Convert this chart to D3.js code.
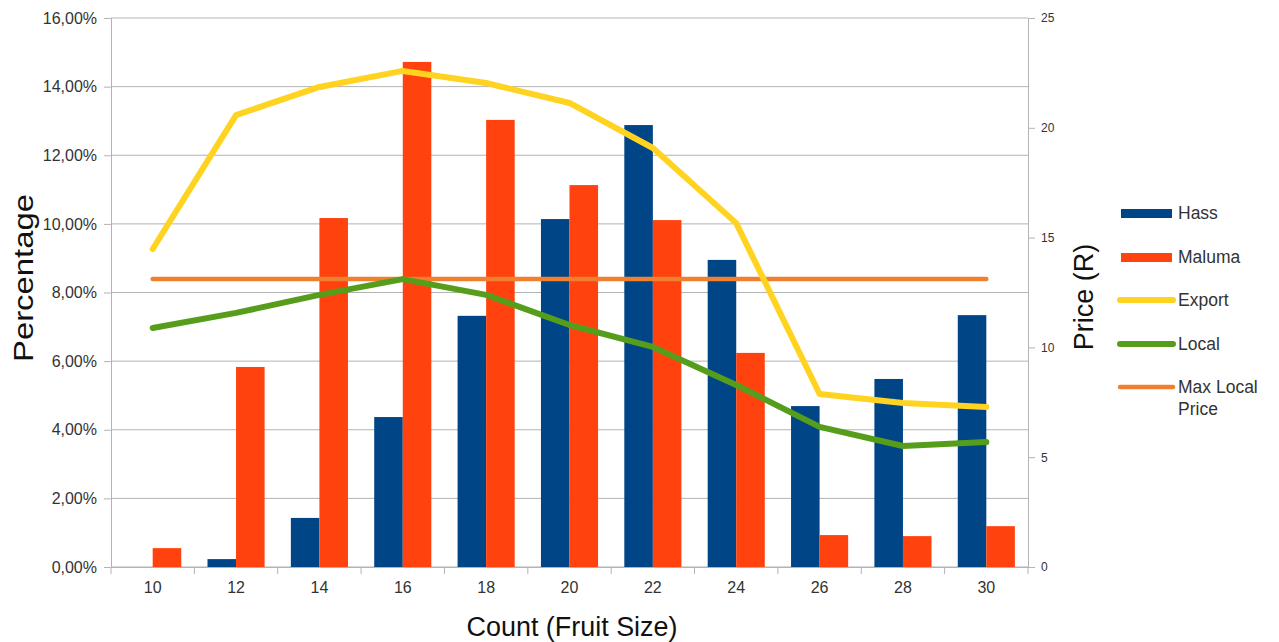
<!DOCTYPE html>
<html><head><meta charset="utf-8">
<script src="https://cdn.jsdelivr.net/npm/d3@7"></script>
<style>body{margin:0;background:#fff;font-family:"Liberation Sans",Arial,sans-serif}</style>
</head><body><svg id="c" width="1279" height="642"></svg>
<script>
const categories = ["10","12","14","16","18","20","22","24","26","28","30"];
const hass = [0, 0.23, 1.43, 4.37, 7.32, 10.14, 12.88, 8.95, 4.69, 5.48, 7.34];
const maluma = [0.55, 5.83, 10.17, 14.72, 13.03, 11.13, 10.11, 6.24, 0.93, 0.90, 1.19];
const exportPrice = [14.48, 20.58, 21.86, 22.59, 22.04, 21.13, 19.08, 15.66, 7.88, 7.47, 7.29];
const localPrice = [10.88, 11.57, 12.39, 13.11, 12.39, 11.02, 10.02, 8.29, 6.38, 5.51, 5.69];
const maxLocalPrice = [13.11, 13.11, 13.11, 13.11, 13.11, 13.11, 13.11, 13.11, 13.11, 13.11, 13.11];
const leftTicks = [0, 2, 4, 6, 8, 10, 12, 14, 16];
const rightTicks = [0, 5, 10, 15, 20, 25];

const svg = d3.select("#c");
const FONT = "Liberation Sans, Arial, sans-serif";
const L = 111, R = 1028, T = 18, B = 567;
const x = d3.scaleBand().domain(categories).range([L, R]).paddingInner(0).paddingOuter(0);
const xs = d3.scaleBand().domain(["h","m"]).range([0, x.bandwidth()]).paddingInner(0).paddingOuter(0.46);
const yL = d3.scaleLinear().domain([0, 16]).range([B, T]);
const yR = d3.scaleLinear().domain([0, 25]).range([B, T]);
const grid = "#b3b3b3";

// gridlines
svg.append("g").selectAll("line").data(leftTicks).join("line")
  .attr("x1", L).attr("x2", R).attr("y1", d => yL(d)).attr("y2", d => yL(d))
  .attr("stroke", grid).attr("stroke-width", 1);

// left axis
const gl = svg.append("g").attr("transform", `translate(${L},0)`)
  .call(d3.axisLeft(yL).tickValues(leftTicks).tickSize(7).tickPadding(7)
    .tickFormat(d => d.toFixed(2).replace(".", ",") + "%"));
gl.select(".domain").attr("stroke", grid);
gl.selectAll(".tick line").attr("stroke", grid);
gl.selectAll("text").attr("font-size", 16).attr("fill", "#333").attr("font-family", FONT);

// right axis
const gr = svg.append("g").attr("transform", `translate(${R},0)`)
  .call(d3.axisRight(yR).tickValues(rightTicks).tickSize(7).tickPadding(6));
gr.select(".domain").attr("stroke", grid);
gr.selectAll(".tick line").attr("stroke", grid);
gr.selectAll("text").attr("font-size", 12).attr("fill", "#333").attr("font-family", FONT);

// bottom axis
const gb = svg.append("g").attr("transform", `translate(0,${B})`)
  .call(d3.axisBottom(x).tickSize(0).tickPadding(15));
gb.select(".domain").attr("stroke", grid);
gb.selectAll("text").attr("font-size", 16).attr("fill", "#333").attr("font-family", FONT);
svg.append("g").selectAll("line").data(d3.range(categories.length + 1)).join("line")
  .attr("x1", i => L + i * x.bandwidth()).attr("x2", i => L + i * x.bandwidth())
  .attr("y1", B).attr("y2", B + 7).attr("stroke", grid);

// bars
const bars = svg.append("g");
bars.selectAll(".h").data(hass).join("rect")
  .attr("x", (d, i) => x(categories[i]) + xs("h")).attr("width", xs.bandwidth())
  .attr("y", d => yL(d)).attr("height", d => B - yL(d)).attr("fill", "#004586");
bars.selectAll(".m").data(maluma).join("rect").attr("class", "m")
  .attr("x", (d, i) => x(categories[i]) + xs("m")).attr("width", xs.bandwidth())
  .attr("y", d => yL(d)).attr("height", d => B - yL(d)).attr("fill", "#ff420e");

// lines
const cx = i => x(categories[i]) + x.bandwidth() / 2;
const line = d3.line().x((d, i) => cx(i)).y(d => yR(d));
svg.append("path").datum(maxLocalPrice).attr("d", line).attr("fill", "none")
  .attr("stroke", "#f08030").attr("stroke-width", 4.5).attr("stroke-linecap", "round");
svg.append("path").datum(localPrice).attr("d", line).attr("fill", "none")
  .attr("stroke", "#579d1c").attr("stroke-width", 6).attr("stroke-linecap", "round").attr("stroke-linejoin", "round");
svg.append("path").datum(exportPrice).attr("d", line).attr("fill", "none")
  .attr("stroke", "#ffd320").attr("stroke-width", 6).attr("stroke-linecap", "round").attr("stroke-linejoin", "round");

// axis titles
svg.append("text").attr("transform", "translate(33,278) rotate(-90)").attr("text-anchor", "middle")
  .attr("font-size", 27).attr("fill", "#111").attr("textLength", 168).attr("lengthAdjust", "spacingAndGlyphs")
  .text("Percentage");
svg.append("text").attr("transform", "translate(1093,297) rotate(-90)").attr("text-anchor", "middle")
  .attr("font-size", 27).attr("fill", "#111").text("Price (R)");
svg.append("text").attr("x", 572).attr("y", 636).attr("text-anchor", "middle")
  .attr("font-size", 27).attr("fill", "#111").attr("textLength", 211).attr("lengthAdjust", "spacingAndGlyphs")
  .text("Count (Fruit Size)");

// legend
const legend = [
  {name: ["Hass"], color: "#004586", type: "rect", y: 213},
  {name: ["Maluma"], color: "#ff420e", type: "rect", y: 257},
  {name: ["Export"], color: "#ffd320", type: "line", w: 6, y: 300},
  {name: ["Local"], color: "#579d1c", type: "line", w: 6, y: 344},
  {name: ["Max Local", "Price"], color: "#f08030", type: "line", w: 4.5, y: 387}
];
const lg = svg.append("g");
legend.forEach(e => {
  if (e.type === "rect") {
    lg.append("rect").attr("x", 1121).attr("y", e.y - 4).attr("width", 51).attr("height", 9).attr("fill", e.color);
  } else {
    lg.append("line").attr("x1", 1120).attr("x2", 1173).attr("y1", e.y).attr("y2", e.y)
      .attr("stroke", e.color).attr("stroke-width", e.w).attr("stroke-linecap", "round");
  }
  e.name.forEach((t, k) => {
    lg.append("text").attr("x", 1178).attr("y", e.y + 6 + k * 22).attr("font-size", 17.5).attr("fill", "#333").text(t);
  });
});
</script></body></html>
